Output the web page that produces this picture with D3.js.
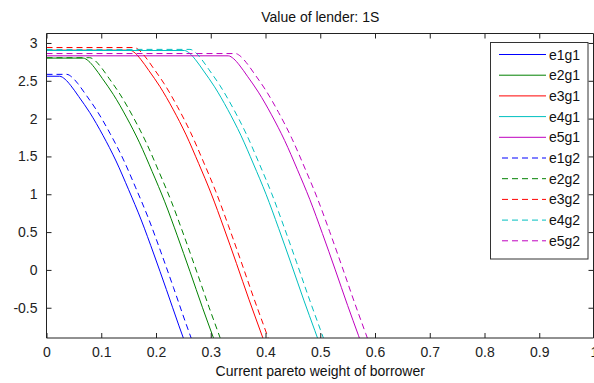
<!DOCTYPE html>
<html><head><meta charset="utf-8">
<script src="https://cdn.jsdelivr.net/npm/d3@7"></script>
<style>
html,body{margin:0;padding:0;background:#fff;}
svg{display:block;font-family:"Liberation Sans",Arial,sans-serif;}
</style></head>
<body><svg id="c" width="594" height="383"></svg>
<script>
const title = "Value of lender: 1S";
const xLabel = "Current pareto weight of borrower";
const xTicks = [0,0.1,0.2,0.3,0.4,0.5,0.6,0.7,0.8,0.9,1];
const xTickLabels = ["0","0.1","0.2","0.3","0.4","0.5","0.6","0.7","0.8","0.9","1"];
const yTicks = [-0.5,0,0.5,1,1.5,2,2.5,3];
const yTickLabels = ["-0.5","0","0.5","1","1.5","2","2.5","3"];
const xDomain = [0,1];
const yDomain = [-0.9,3.125];

const names = ["e1g1","e2g1","e3g1","e4g1","e5g1","e1g2","e2g2","e3g2","e4g2","e5g2"];
const colors = ["#0000ff","#008000","#ff0000","#00bfbf","#bf00bf","#0000ff","#008000","#ff0000","#00bfbf","#bf00bf"];
const dashed = [false,false,false,false,false,true,true,true,true,true];

const e1g1X = [0,.024,.034,.044,.059,.079,.103,.127,.150,.173,.196,.219,.242,.262,.282];
const e1g1Y = [2.56,2.56,2.52,2.44,2.29,2.08,1.78,1.44,1.06,0.66,0.21,-0.26,-0.74,-1.14,-1.54];
const e1g2X = [0,.037,.047,.057,.072,.092,.116,.14,.163,.186,.209,.232,.255,.275,.295];
const e1g2Y = [2.585,2.585,2.545,2.465,2.315,2.105,1.805,1.465,1.085,0.685,0.235,-0.235,-0.715,-1.115,-1.515];
const e2g1X = [0,.067,.077,.087,.102,.122,.146,.17,.193,.216,.239,.262,.285,.305,.325];
const e2g1Y = [2.8,2.8,2.76,2.68,2.53,2.32,2.02,1.68,1.3,0.9,0.45,-0.02,-0.5,-0.9,-1.3];
const e2g2X = [0,.079,.089,.099,.114,.134,.158,.182,.205,.228,.251,.274,.297,.317,.337];
const e2g2Y = [2.805,2.805,2.765,2.685,2.535,2.325,2.025,1.685,1.305,0.905,0.455,-0.015,-0.495,-0.895,-1.295];
const e3g1X = [0,.152,.162,.172,.187,.207,.231,.255,.278,.301,.324,.347,.37,.39,.41];
const e3g1Y = [2.905,2.905,2.865,2.785,2.635,2.425,2.125,1.785,1.405,1.005,0.555,0.085,-0.395,-0.795,-1.195];
const e3g2X = [0,.16,.17,.18,.195,.215,.239,.263,.286,.309,.332,.355,.378,.398,.418];
const e3g2Y = [2.94,2.94,2.9,2.82,2.67,2.46,2.16,1.82,1.44,1.04,0.59,0.12,-0.36,-0.76,-1.16];
const e4g1X = [0,.252,.262,.272,.287,.307,.331,.355,.378,.401,.424,.447,.47,.49,.51];
const e4g1Y = [2.9,2.9,2.86,2.78,2.63,2.42,2.12,1.78,1.4,1.0,0.55,0.08,-0.4,-0.8,-1.2];
const e4g2X = [0,.262,.272,.282,.297,.317,.341,.365,.388,.411,.434,.457,.48,.5,.52];
const e4g2Y = [2.915,2.915,2.875,2.795,2.645,2.435,2.135,1.795,1.415,1.015,0.565,0.095,-0.385,-0.785,-1.185];
const e5g1X = [0,.332,.342,.352,.367,.387,.411,.435,.458,.481,.504,.527,.55,.57,.59];
const e5g1Y = [2.83,2.83,2.79,2.71,2.56,2.35,2.05,1.71,1.33,0.93,0.48,0.01,-0.47,-0.87,-1.27];
const e5g2X = [0,.345,.355,.365,.38,.4,.424,.448,.471,.494,.517,.54,.563,.583,.603];
const e5g2Y = [2.86,2.86,2.82,2.74,2.59,2.38,2.08,1.74,1.36,0.96,0.51,0.04,-0.44,-0.84,-1.24];

const seriesX = [e1g1X,e2g1X,e3g1X,e4g1X,e5g1X,e1g2X,e2g2X,e3g2X,e4g2X,e5g2X];
const seriesY = [e1g1Y,e2g1Y,e3g1Y,e4g1Y,e5g1Y,e1g2Y,e2g2Y,e3g2Y,e4g2Y,e5g2Y];

const m = {left:46.5, right:594, top:33.5, bottom:338};
const svg = d3.select("#c");
const x = d3.scaleLinear().domain(xDomain).range([m.left, m.right]);
const y = d3.scaleLinear().domain(yDomain).range([m.bottom, m.top]);

svg.append("defs").append("clipPath").attr("id","pc")
  .append("rect").attr("x",m.left).attr("y",m.top).attr("width",m.right-m.left).attr("height",m.bottom-m.top);

const line = d3.line().x(d=>x(d[0])).y(d=>y(d[1])).curve(d3.curveMonotoneX);
const gl = svg.append("g").attr("clip-path","url(#pc)");
names.forEach((n,i)=>{
  const pts = seriesX[i].map((v,j)=>[v, seriesY[i][j]]);
  gl.append("path").datum(pts).attr("d",line).attr("fill","none")
    .attr("stroke",colors[i]).attr("stroke-width",1)
    .attr("stroke-dasharray", dashed[i] ? "6,4" : null);
});

const axisColor = "#222";
const tl = 5;
const gBottom = svg.append("g").attr("transform",`translate(0,${m.bottom})`)
  .call(d3.axisBottom(x).tickValues(xTicks).tickFormat((d,i)=>xTickLabels[i]).tickSize(-tl).tickPadding(9));
const gTop = svg.append("g").attr("transform",`translate(0,${m.top})`)
  .call(d3.axisTop(x).tickValues(xTicks).tickFormat("").tickSize(-tl));
const gLeft = svg.append("g").attr("transform",`translate(${m.left},0)`)
  .call(d3.axisLeft(y).tickValues(yTicks).tickFormat((d,i)=>yTickLabels[i]).tickSize(-tl).tickPadding(9));
const gRight = svg.append("g").attr("transform",`translate(${m.right-0.5},0)`)
  .call(d3.axisRight(y).tickValues(yTicks).tickFormat("").tickSize(-tl));
[gBottom,gTop,gLeft,gRight].forEach(g=>{
  g.select(".domain").remove();
  g.selectAll(".tick line").attr("stroke",axisColor);
  g.selectAll("text").attr("fill","#222").style("font-size","14px").style("font-family","'Liberation Sans',Arial,sans-serif");
});
svg.append("path").attr("fill","none").attr("stroke",axisColor).attr("stroke-width",1)
  .attr("d",`M${m.left},${m.top}H${m.right-0.5}M${m.left},${m.top}V${m.bottom}H${m.right-0.5}V${m.top}`);

svg.append("text").attr("x",(m.left+m.right)/2).attr("y",22).attr("text-anchor","middle")
  .style("font-size","14px").attr("fill","#111").text(title);
svg.append("text").attr("x",(m.left+m.right)/2).attr("y",376).attr("text-anchor","middle")
  .style("font-size","14px").attr("fill","#111").text(xLabel);

const lg = svg.append("g");
lg.append("rect").attr("x",490.5).attr("y",42.5).attr("width",97.5).attr("height",216.5)
  .attr("fill","#fff").attr("stroke","#333").attr("stroke-width",1);
names.forEach((n,i)=>{
  const yy = 54.5 + i*20.7;
  lg.append("line").attr("x1",499).attr("x2",546).attr("y1",yy).attr("y2",yy)
    .attr("stroke",colors[i]).attr("stroke-width",1)
    .attr("stroke-dasharray", dashed[i] ? "6,4" : null)
    .attr("stroke-dashoffset", dashed[i] ? -3 : null);
  lg.append("text").attr("x",549).attr("y",yy+5).style("font-size","14px").attr("fill","#111").text(n);
});
</script></body></html>
